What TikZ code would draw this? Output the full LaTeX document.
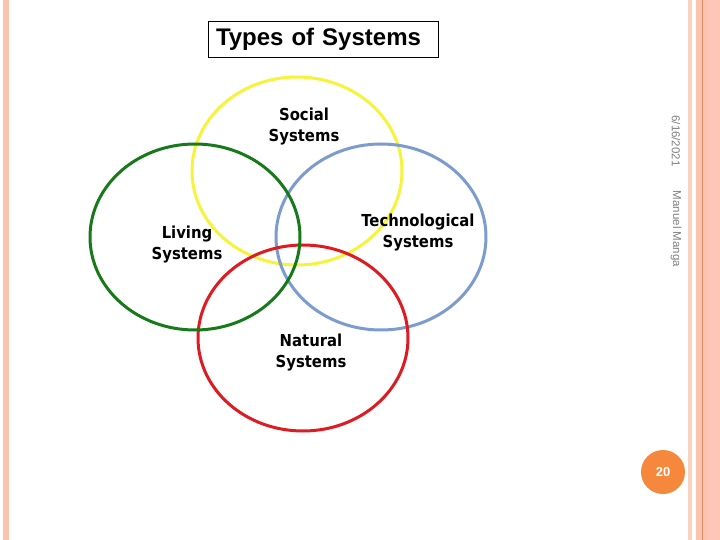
\documentclass[tikz,border=0pt]{standalone}
\usepackage{fontspec}
\setmainfont{Liberation Sans}
\newfontfamily\labelfont{DejaVu Sans Condensed}
\usetikzlibrary{positioning}

\definecolor{ringyellow}{HTML}{F6F43A}
\definecolor{ringgreen}{HTML}{17791A}
\definecolor{ringblue}{HTML}{7C9BCF}
\definecolor{ringred}{HTML}{DD1B20}
\definecolor{bandlight}{HTML}{FAD2C2}
\definecolor{bandpeach}{HTML}{FBC4AE}
\definecolor{bandpink}{HTML}{FEC6B6}
\definecolor{bandline}{HTML}{E0895E}
\definecolor{pageorange}{HTML}{F5883C}

\tikzset{
    ring/.style={line width=3pt},
    syslabel/.style={font=\labelfont\bfseries\fontsize{16.5}{21}\selectfont, align=center, inner sep=0pt},
    sidetext/.style={font=\fontsize{11.5}{13}\selectfont, text=black!50, rotate=-90, inner sep=0pt}
}

\begin{document}
\begin{tikzpicture}[x=1pt,y=-1pt]
    \useasboundingbox (0,0) rectangle (720,540);
    \fill[white] (0,0) rectangle (720,540);

    % left band
    \fill[bandpeach] (3,0) rectangle (9,540);

    % right bands
    \fill[bandlight] (688,0) rectangle (691.5,540);
    \fill[bandpeach] (696,0) rectangle (702,540);
    \fill[bandline] (702,0) rectangle (703.2,540);
    \fill[bandpeach] (703.2,0) rectangle (708,540);
    \fill[bandpink] (708,0) rectangle (720,540);

    % title box
    \node[draw, line width=0.8pt, text width=214, align=left, minimum height=36,
          inner xsep=8pt, inner ysep=0pt,
          font=\bfseries\fontsize{24}{28}\selectfont] (title) at (323,39) {Types of Systems};

    % the four rings
    \draw[ring, ringyellow] (297,171) ellipse [x radius=105, y radius=94];
    \draw[ring, ringblue] (381,237) ellipse [x radius=105, y radius=93];
    \draw[ring, ringred] (303,338) ellipse [x radius=105, y radius=93];
    \draw[ring, ringgreen] (195,237) ellipse [x radius=105, y radius=93];

    % ring labels
    \node[syslabel] (social) at (304,127) {Social\\Systems};
    \node[syslabel] (living) at (187,245) {Living\\Systems};
    \node[syslabel] (techno) at (418,233) {Technological\\Systems};
    \node[syslabel] (natural) at (311,353) {Natural\\Systems};

    % footer texts on the right
    \node[sidetext] (date) at (676,141) {6/16/2021};
    \node[sidetext] (author) at (676,229) {Manuel Manga};

    % page number
    \node[circle, fill=pageorange, minimum size=44, inner sep=0pt, text=white,
          font=\bfseries\fontsize{13}{15}\selectfont] (page) at (663,472) {20};
\end{tikzpicture}
\end{document}
